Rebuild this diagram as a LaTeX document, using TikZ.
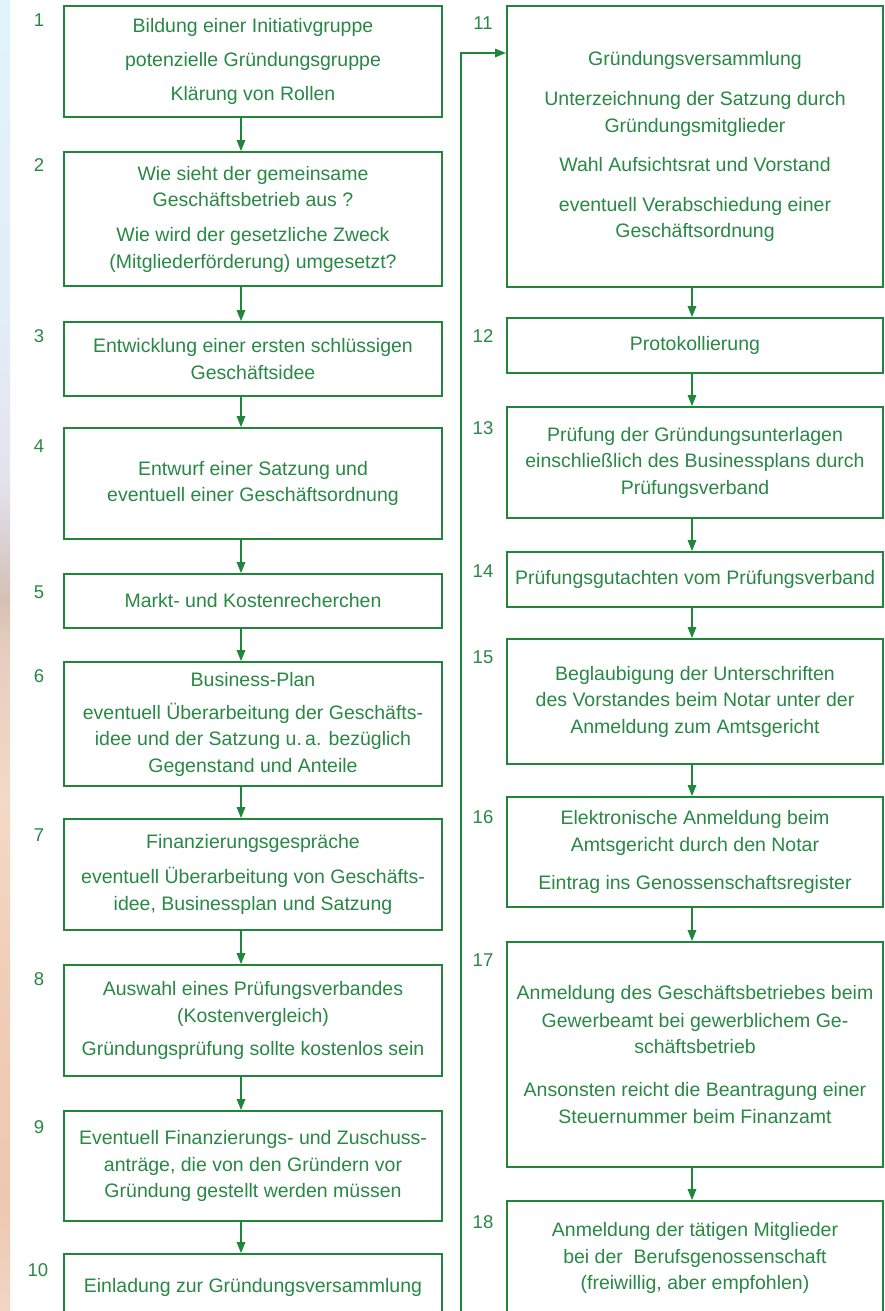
\documentclass[tikz,border=0pt]{standalone}
\usepackage{fontspec}
\setmainfont{Liberation Sans}
\usetikzlibrary{arrows.meta}
\definecolor{boxgreen}{RGB}{32,134,58}
\definecolor{txtgreen}{RGB}{40,136,68}
\begin{document}
\begin{tikzpicture}[x=1pt,y=-1pt,
  box/.style={draw=boxgreen, line width=1.8pt, align=center, text=txtgreen, font=\fontsize{19.5}{26.5}\selectfont, inner sep=0pt},
  lbox/.style={box, minimum width=378pt},
  rbox/.style={box, minimum width=376pt},
  num/.style={text=txtgreen, font=\fontsize{18.5}{20}\selectfont, inner sep=0pt},
  arr/.style={draw=boxgreen, line width=1.5pt, -{Triangle[length=11pt,width=8.5pt]}}
]
\useasboundingbox (0,0) rectangle (884,1311);
\clip (0,0) rectangle (884,1311);
\fill[white] (0,0) rectangle (884,1311);
% left gradient strip
\shade[top color={rgb,255:red,225;green,244;blue,251}, bottom color={rgb,255:red,226;green,238;blue,248}] (0,0) rectangle (10,300);
\shade[top color={rgb,255:red,226;green,238;blue,248}, bottom color={rgb,255:red,227;green,227;blue,238}] (0,300) rectangle (10,480);
\shade[top color={rgb,255:red,227;green,227;blue,238}, bottom color={rgb,255:red,216;green,204;blue,200}] (0,480) rectangle (10,560);
\shade[top color={rgb,255:red,216;green,204;blue,200}, bottom color={rgb,255:red,214;green,192;blue,180}] (0,560) rectangle (10,600);
\shade[top color={rgb,255:red,214;green,192;blue,180}, bottom color={rgb,255:red,230;green,205;blue,191}] (0,600) rectangle (10,650);
\shade[top color={rgb,255:red,230;green,205;blue,191}, bottom color={rgb,255:red,243;green,217;blue,198}] (0,650) rectangle (10,800);
\shade[top color={rgb,255:red,243;green,217;blue,198}, bottom color={rgb,255:red,240;green,205;blue,183}] (0,800) rectangle (10,1000);
\shade[top color={rgb,255:red,240;green,205;blue,183}, bottom color={rgb,255:red,237;green,200;blue,176}] (0,1000) rectangle (10,1200);
\shade[top color={rgb,255:red,237;green,200;blue,176}, bottom color={rgb,255:red,242;green,213;blue,196}] (0,1200) rectangle (10,1311);

% left column
\node[lbox, minimum height=111pt] (b1) at (253,61.5) {Bildung einer Initiativgruppe\\[7.5pt]potenzielle Gründungsgruppe\\[7.5pt]Klärung von Rollen};
\node[lbox, minimum height=134pt] (b2) at (253,219) {Wie sieht der gemeinsame\\Geschäftsbetrieb aus ?\\[8.5pt]Wie wird der gesetzliche Zweck\\(Mitgliederförderung) umgesetzt?};
\node[lbox, minimum height=74pt] (b3) at (253,359) {Entwicklung einer ersten schlüssigen\\Geschäftsidee};
\node[lbox, minimum height=111pt] (b4) at (253,483.5) {Entwurf einer Satzung und\\eventuell einer Geschäftsordnung};
\node[lbox, minimum height=54pt] (b5) at (253,601) {Markt- und Kostenrecherchen};
\node[lbox, minimum height=124pt] (b6) at (253,724) {Business-Plan\\[6.5pt]eventuell Überarbeitung der Geschäfts-\\idee und der Satzung u.\,a. bezüglich\\Gegenstand und Anteile};
\node[lbox, minimum height=111pt] (b7) at (253,874.5) {Finanzierungsgespräche\\[8.5pt]eventuell Überarbeitung von Geschäfts-\\idee, Businessplan und Satzung};
\node[lbox, minimum height=111pt] (b8) at (253,1020.5) {Auswahl eines Prüfungsverbandes\\(Kostenvergleich)\\[6.5pt]Gründungsprüfung sollte kostenlos sein};
\node[lbox, minimum height=110pt] (b9) at (253,1166) {Eventuell Finanzierungs- und Zuschuss-\\anträge, die von den Gründern vor\\Gründung gestellt werden müssen};
\node[lbox, minimum height=66pt] (b10) at (253,1287) {Einladung zur Gründungsversammlung};

% right column
\node[rbox, minimum height=281pt] (b11) at (695,146.5) {Gründungsversammlung\\[13.5pt]Unterzeichnung der Satzung durch\\Gründungsmitglieder\\[12.5pt]Wahl Aufsichtsrat und Vorstand\\[13.5pt]eventuell Verabschiedung einer\\Geschäftsordnung};
\node[rbox, minimum height=55pt] (b12) at (695,345.5) {Protokollierung};
\node[rbox, minimum height=111pt] (b13) at (695,462.5) {Prüfung der Gründungsunterlagen\\einschließlich des Businessplans durch\\Prüfungsverband};
\node[rbox, minimum height=55pt] (b14) at (695,579.5) {Prüfungsgutachten vom Prüfungsverband};
\node[rbox, minimum height=125pt] (b15) at (695,701.5) {Beglaubigung der Unterschriften\\des Vorstandes beim Notar unter der\\Anmeldung zum Amtsgericht};
\node[rbox, minimum height=110pt] (b16) at (695,852) {Elektronische Anmeldung beim\\Amtsgericht durch den Notar\\[11.5pt]Eintrag ins Genossenschaftsregister};
\node[rbox, minimum height=225pt] (b17) at (695,1054.5) {Anmeldung des Geschäftsbetriebes beim\\[1.5pt]Gewerbeamt bei gewerblichem Ge-\\schäftsbetrieb\\[16.5pt]Ansonsten reicht die Beantragung einer\\Steuernummer beim Finanzamt};
\node[rbox, minimum height=114pt] (b18) at (695,1258) {Anmeldung der tätigen Mitglieder\\bei der\ \ Berufsgenossenschaft\\(freiwillig, aber empfohlen)};

% numbers
\node[num] (n1) at (39,20) {1};
\node[num] (n2) at (39,165) {2};
\node[num] (n3) at (39,336) {3};
\node[num] (n4) at (39,446) {4};
\node[num] (n5) at (39,592) {5};
\node[num] (n6) at (39,676) {6};
\node[num] (n7) at (39,835) {7};
\node[num] (n8) at (39,979) {8};
\node[num] (n9) at (39,1127) {9};
\node[num] (n10) at (38,1270) {10};
\node[num] (n11) at (483,23) {11};
\node[num] (n12) at (483,336) {12};
\node[num] (n13) at (483,428) {13};
\node[num] (n14) at (483,571) {14};
\node[num] (n15) at (483,657) {15};
\node[num] (n16) at (483,817) {16};
\node[num] (n17) at (483,960) {17};
\node[num] (n18) at (483,1222) {18};

% connectors
\coordinate (axL) at (241,0);
\coordinate (axR) at (692,0);
\foreach \a/\b in {b1/b2,b2/b3,b3/b4,b4/b5,b5/b6,b6/b7,b7/b8,b8/b9,b9/b10}
  \draw[arr] (\a.south -| axL) -- (\b.north -| axL);
\foreach \a/\b in {b11/b12,b12/b13,b13/b14,b14/b15,b15/b16,b16/b17,b17/b18}
  \draw[arr] (\a.south -| axR) -- (\b.north -| axR);
\coordinate (turn) at (461,1345);
\coordinate (in11) at (506,53);
\draw[arr] (b10.south) |- (turn) |- (in11);
\end{tikzpicture}
\end{document}
